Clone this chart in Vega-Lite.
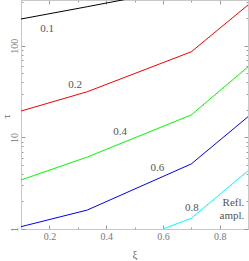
{
  "$schema": "https://vega.github.io/schema/vega-lite/v6.json",
  "width": 227,
  "height": 229,
  "autosize": "none",
  "padding": {"left": 21, "top": 0, "right": 1, "bottom": 32},
  "config": {
    "view": {"stroke": "#c8c8c8"},
    "axis": {
      "grid": false,
      "domainColor": "#c8c8c8",
      "tickColor": "#999999",
      "labelFont": "Liberation Serif",
      "labelFontSize": 10,
      "labelColor": "#777777",
      "titleFont": "Liberation Serif",
      "titleFontSize": 11,
      "titleFontWeight": "normal",
      "titleColor": "#666666"
    }
  },
  "datasets": {
    "curves": [
      {"s": "0.1", "xi": 0.1, "val": 196},
      {"s": "0.1", "xi": 0.3333, "val": 267},
      {"s": "0.1", "xi": 0.5, "val": 335},
      {"s": "0.2", "xi": 0.1, "val": 19.4},
      {"s": "0.2", "xi": 0.3333, "val": 31.5},
      {"s": "0.2", "xi": 0.7, "val": 86},
      {"s": "0.2", "xi": 0.9, "val": 279},
      {"s": "0.4", "xi": 0.1, "val": 3.43},
      {"s": "0.4", "xi": 0.3333, "val": 6.1},
      {"s": "0.4", "xi": 0.7, "val": 17.6},
      {"s": "0.4", "xi": 0.9, "val": 59},
      {"s": "0.6", "xi": 0.1, "val": 1.06},
      {"s": "0.6", "xi": 0.3333, "val": 1.61},
      {"s": "0.6", "xi": 0.7, "val": 5.13},
      {"s": "0.6", "xi": 0.9, "val": 16.8},
      {"s": "0.8", "xi": 0.6, "val": 1.0},
      {"s": "0.8", "xi": 0.7, "val": 1.31},
      {"s": "0.8", "xi": 0.9, "val": 4.33}
    ],
    "labels": [
      {"label": "0.1", "xi": 0.192, "val": 152},
      {"label": "0.2", "xi": 0.291, "val": 37.3},
      {"label": "0.4", "xi": 0.449, "val": 11.5},
      {"label": "0.6", "xi": 0.581, "val": 4.6},
      {"label": "0.8", "xi": 0.702, "val": 1.68}
    ],
    "notes": [
      {"label": "Refl.", "xi": 0.887, "val": 1.94},
      {"label": "ampl.", "xi": 0.887, "val": 1.39}
    ]
  },
  "layer": [
    {
      "data": {"name": "curves"},
      "mark": {"type": "line", "strokeWidth": 1, "clip": true},
      "encoding": {
        "x": {
          "field": "xi", "type": "quantitative",
          "scale": {"domain": [0.1, 0.9], "nice": false, "zero": false},
          "axis": {
            "orient": "bottom",
            "title": "ξ",
            "values": [0.1, 0.2, 0.3, 0.4, 0.5, 0.6, 0.7, 0.8, 0.9],
            "tickSize": {"condition": {"test": "indexof([0.2,0.4,0.6,0.8], datum.value) >= 0", "value": -4}, "value": -2},
            "labelExpr": "indexof([0.2,0.4,0.6,0.8], datum.value) >= 0 ? datum.label : ''",
            "labelPadding": 6,
            "titlePadding": 7
          }
        },
        "y": {
          "field": "val", "type": "quantitative",
          "scale": {"type": "log", "domain": [1, 316], "nice": false},
          "axis": {
            "orient": "left",
            "title": "τ",
            "values": [1, 2, 3, 4, 5, 6, 7, 8, 9, 10, 20, 30, 40, 50, 60, 70, 80, 90, 100, 200, 300],
            "tickSize": {"condition": {"test": "indexof([1,10,100], datum.value) >= 0", "value": -4}, "value": -2},
            "labelExpr": "indexof([1,10,100], datum.value) >= 0 ? datum.label : ''",
            "labelAngle": -90,
            "labelAlign": "center",
            "labelBaseline": "bottom",
            "labelPadding": 6,
            "titleX": -15,
            "titleY": 116,
            "titleAngle": -90,
            "titleAlign": "center",
            "titleBaseline": "middle"
          }
        },
        "color": {
          "field": "s", "type": "nominal",
          "scale": {"domain": ["0.1", "0.2", "0.4", "0.6", "0.8"], "range": ["#000000", "#ff0000", "#00ff00", "#0000ff", "#00ffff"]},
          "legend": null
        }
      }
    },
    {
      "data": {"name": "labels"},
      "mark": {"type": "text", "font": "Liberation Serif", "fontSize": 11, "color": "#555555", "align": "center", "baseline": "middle"},
      "encoding": {
        "x": {
          "field": "xi", "type": "quantitative",
          "scale": {"domain": [0.1, 0.9], "nice": false, "zero": false},
          "axis": {
            "orient": "top", "title": null, "labels": false,
            "values": [0.1, 0.2, 0.3, 0.4, 0.5, 0.6, 0.7, 0.8, 0.9],
            "tickSize": {"condition": {"test": "indexof([0.2,0.4,0.6,0.8], datum.value) >= 0", "value": -4}, "value": -2}
          }
        },
        "y": {
          "field": "val", "type": "quantitative",
          "scale": {"type": "log", "domain": [1, 316], "nice": false},
          "axis": {
            "orient": "right", "title": null, "labels": false,
            "values": [1, 2, 3, 4, 5, 6, 7, 8, 9, 10, 20, 30, 40, 50, 60, 70, 80, 90, 100, 200, 300],
            "tickSize": {"condition": {"test": "indexof([1,10,100], datum.value) >= 0", "value": -4}, "value": -2}
          }
        },
        "text": {"field": "label"}
      }
    },
    {
      "data": {"name": "notes"},
      "mark": {"type": "text", "font": "Liberation Serif", "fontSize": 11, "color": "#555555", "align": "right", "baseline": "middle"},
      "encoding": {
        "x": {"field": "xi", "type": "quantitative", "scale": {"domain": [0.1, 0.9], "nice": false, "zero": false}, "axis": null},
        "y": {"field": "val", "type": "quantitative", "scale": {"type": "log", "domain": [1, 316], "nice": false}, "axis": null},
        "text": {"field": "label"}
      }
    }
  ],
  "resolve": {"axis": {"x": "independent", "y": "independent"}}
}
